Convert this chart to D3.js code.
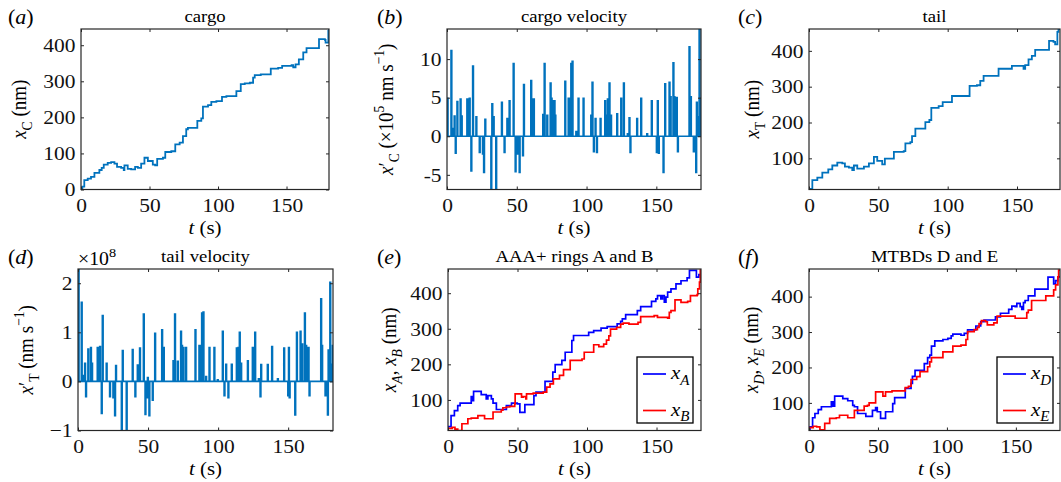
<!DOCTYPE html>
<html>
<head>
<meta charset="utf-8">
<script src="https://cdn.jsdelivr.net/npm/d3@7"></script>
<style>
body{margin:0;background:#fff;}
</style>
</head>
<body>
<svg id="fig" width="1061" height="482"></svg>
<script>
// ---- data: [t (s), value] ----
var cargo=[[0,3],[1,8],[2.4,26],[4.9,30],[7.3,35],[9.8,46],[13.4,54],[15.1,60],[16.6,69],[19.5,74],[22,76],[24.4,72],[26.3,63],[29.3,60],[31.2,54],[31.7,67],[34.1,57],[36.6,56],[39.5,63],[41.5,60],[43.9,72],[46.3,88],[48.8,79],[52.4,69],[54.1,67],[55.6,85],[59.8,88],[61.5,104],[65.9,106],[68.8,125],[72,130],[74.4,148],[76.8,167],[78,171],[84.9,190],[87.8,197],[89,230],[92.7,234],[95.1,243],[98.8,245],[102.9,257],[106.1,259],[113.4,273],[116.6,292],[119.5,294],[123.2,296],[125.6,310],[126.8,317],[131.2,319],[138.5,335],[143.9,337],[146.8,343],[153.7,345],[154.9,339],[156.6,347],[159,361],[162.2,380],[164.6,392],[173.7,417],[178,415],[178.5,407],[180.5,440],[181,445]];

var tail=[[0,15],[2.4,39],[6,46],[9.6,60],[13.9,69],[16.8,80],[20.4,88],[24,86],[25.9,77],[28.8,74],[31.2,67],[32.4,80],[34.8,71],[39.6,77],[43.2,86],[46.8,104],[49.2,93],[52.8,83],[54.7,99],[61.2,118],[68.3,120],[69.5,142],[73.1,145],[74.3,162],[76.7,183],[83.9,201],[86.8,207],[88.2,241],[93.5,246],[96.4,257],[103.1,274],[115.8,302],[121.1,304],[123.5,316],[125.9,330],[136.7,350],[146.3,358],[154.7,350],[155.9,360],[158.3,376],[160.7,386],[163.1,403],[173.1,428],[176.3,425],[177.5,418],[179.1,453],[179.9,461],[182,461]];

var cargoVel=[[0.2,4.9],[2.9,11.1],[4,1],[5.2,2.6],[6,-2.2],[7.2,4.5],[9.5,4.8],[10.3,2.6],[14.3,4.8],[16,4.9],[17.2,-4.5],[18.4,9.1],[20.8,2.5],[23.2,-2.1],[25.5,-2.3],[26.3,-4.7],[27.2,2.2],[31.5,-6.9],[32.2,4.2],[33.2,2.5],[35,-6.9],[39.1,4.4],[41,-2.1],[43,2.3],[44.6,4.6],[47.5,9.4],[48.9,-4.6],[50.1,-2.3],[51.8,-4.7],[54.2,-2.5],[54.9,6.7],[60.1,7.2],[61.1,4.8],[62,4.8],[68.7,2.8],[69.7,9.4],[71.6,2.7],[74,6.9],[74.7,4.9],[75.7,4.6],[76.8,4.6],[77.4,2.7],[84.5,7.1],[86.9,4.9],[87.8,4.9],[88.8,9.4],[89.7,9.7],[92.4,0.6],[94,4.9],[97.6,4.9],[103.1,2.7],[104,7],[105,-2],[106.2,2.3],[107.2,-2.1],[109.8,2.3],[113.1,4.6],[114.3,2.7],[115,4.8],[116.2,6.9],[117.3,2.7],[121.7,2.9],[124.6,4.9],[126.5,6.9],[129.3,0.3],[130.5,2.4],[131.2,-2.1],[136,2.3],[138.9,4.9],[143.2,0.3],[146.5,4.6],[150.1,-2.1],[150.8,4.6],[151.5,-2.2],[154.9,-4.7],[156.1,6.8],[159.2,7],[160,5.1],[162,9.5],[162.7,5.1],[164.4,5],[165.2,-2],[173.5,11.6],[174.5,5.1],[176.6,-2],[178.3,-4.7],[178.8,4.4],[180,2.5],[180.7,14],[181.9,4.9]];

var tailVel=[[0.2,2.29],[2.4,1.61],[3.6,0.12],[4.8,0.37],[5.5,-0.31],[7.1,0.66],[9,0.69],[9.8,0.37],[13.8,0.69],[15.5,0.71],[16.7,-0.65],[17.4,1.34],[20.2,0.37],[22.6,-0.31],[25,-0.33],[26.2,-0.7],[26.9,0.32],[31,-1.05],[31.7,0.63],[34.5,-1.05],[38.8,0.65],[40.7,-0.31],[42.4,0.33],[44,0.68],[46.7,1.37],[47.9,-0.67],[49.1,-0.33],[49.6,0.08],[50.7,-0.7],[53.1,-0.38],[54.8,0.98],[59.8,1.05],[61,0.69],[67.9,0.42],[69,1.37],[71,0.41],[73.3,1.02],[74,0.73],[75,0.69],[76.9,0.69],[83.6,1.05],[86.4,0.73],[87.1,0.73],[88.3,1.39],[89.3,1.41],[91.2,0.1],[93.6,0.69],[97.1,0.69],[99.5,0.03],[103.1,1.02],[104.3,-0.29],[105.5,0.35],[107.1,-0.33],[109.5,0.35],[113.1,0.68],[114.3,0.69],[115.2,1],[116.2,0.37],[121,0.42],[124.5,0.69],[126.2,1],[128.8,0.05],[130,-0.31],[130.5,0.34],[135.2,0.34],[138.3,0.71],[142.4,0.05],[146.9,0.68],[149.8,-0.29],[150.3,0.69],[150.8,-0.33],[154.8,-0.68],[156,1],[158.6,1.02],[159.8,0.76],[161.7,1.39],[162.6,0.73],[164.3,0.69],[165,-0.29],[173.3,1.68],[174,0.73],[176.4,-0.29],[178.1,-0.68],[178.6,0.64],[179.8,2.02],[180.5,0.35],[181.7,0.73]];

var ringA=[[0,25],[2.2,56],[4.6,70],[7,84],[8.7,91],[16.7,109],[17.4,98],[18.4,124],[23.9,115],[27.5,103],[28.7,112],[31.2,103],[32.4,91],[34.8,73],[42,84],[45.7,91],[49.8,89],[51.7,65],[55.3,87],[61.8,112],[63.3,122],[69.8,152],[75.4,178],[77.1,199],[81.9,211],[84.3,234],[89.1,267],[90.3,281],[101.2,290],[104.8,295],[110.1,302],[114.5,306],[121.7,314],[124.2,321],[125.4,328],[127.8,340],[136.2,351],[138.6,362],[146.4,377],[149.5,384],[150.7,393],[153.1,384],[154.3,393],[155.6,375],[156.8,389],[158,403],[160.4,412],[164,426],[167.6,435],[172,443],[173.7,464],[178.7,445],[180.5,452],[182,458]];

var ringB=[[0,20],[3,23],[5,18],[7,14],[10,33],[14.3,47],[16.7,49],[21.5,56],[26.3,47],[32.4,66],[38.3,71],[39.5,78],[42,80],[44.4,82],[48,89],[48.3,117],[50.5,117],[52.9,108],[54.1,109],[56,103],[56.5,117],[61.3,119],[68.5,122],[71,136],[73.4,145],[75.8,159],[80.2,169],[83.1,185],[86,185],[87.9,211],[96.4,215],[98,234],[102.4,234],[104.8,255],[108.5,250],[112,257],[114,268],[115.7,280],[116.9,299],[121.3,304],[124.2,313],[126,316],[130.2,313],[136.7,318],[138.6,334],[148.3,337],[150.7,332],[158,330],[159.2,346],[160.4,351],[163.3,381],[167.6,374],[172.4,377],[174.4,393],[179.2,396],[179.7,412],[180.9,431],[181.5,465],[182,465]];

var mtbdD=[[0,22],[0.7,32],[2.6,58],[4.3,70],[6.7,81],[9,89],[16.2,103],[17.4,91],[18.6,119],[24.5,112],[28.1,106],[31.7,93],[32.9,89],[35.2,70],[41.2,62],[46,79],[48.3,87],[49.5,75],[51.9,56],[55.5,75],[60.7,98],[62.1,115],[69.8,141],[74,155],[75,175],[76.9,192],[83.6,211],[86,228],[87.6,235],[88.8,260],[91.2,275],[97.1,279],[100.7,282],[103.1,289],[104.3,294],[110.2,291],[112.6,296],[115,306],[121,317],[124.5,329],[126.9,334],[135.2,343],[138.8,353],[144.8,364],[147.1,373],[149.5,372],[150.7,381],[153.1,372],[154.3,364],[155.5,383],[156.7,389],[159,402],[163.8,421],[173.3,455],[177.4,436],[178.8,445],[180.5,456],[182,456]];

var mtbdE=[[0,30],[3.1,34],[5.5,32],[7.9,24],[11.4,42],[15,56],[19.8,58],[22.1,65],[28.1,58],[32.9,79],[40,91],[42.4,93],[43.6,100],[48.3,131],[53.6,119],[55.5,131],[60.2,134],[69.8,143],[72.1,147],[74,166],[78.1,174],[80.5,188],[86,202],[87.6,216],[88.8,228],[97.1,244],[104.3,260],[110.2,263],[113.8,279],[115,301],[119.8,307],[122.1,313],[123.3,324],[125,332],[128.1,329],[129.3,320],[134,326],[136.4,345],[149.5,339],[157.9,355],[159,362],[161.4,389],[171.7,402],[177.4,419],[178.8,433],[180.5,456],[181,475],[182,475]];

// tick values
var tTicks=[0,50,100,150];
var cargoTicks=[0,100,200,300,400];
var posTicks=[100,200,300,400];
var cargoVelTicks=[-5,0,5,10];
var tailVelTicks=[-1,0,1,2];

// ---- drawing ----
var svg=d3.select("#fig");
var FONT="'Liberation Serif', 'Times New Roman', Times, serif";
var SX=1.1, TICK=3, SPW=0.5;
var MBLUE="#0072BD", BLUE="#0000FF", RED="#FF0000", INK="#262626";

svg.attr("font-family",FONT);

// rich text: parts are [string, style] with style "", "i", "sub", "isub", "sup"
function rich(t,parts,size){
  var shift=0;
  parts.forEach(function(p){
    var st=p[1]||"", fs=size, target=0;
    if(st.indexOf("sub")>=0){fs=size*0.72;target=size*0.3;}
    if(st=="sup"){fs=size*0.72;target=-size*0.42;}
    var ts=t.append("tspan").text(p[0]).attr("font-size",fs).attr("dy",target-shift);
    if(st.charAt(0)=="i") ts.attr("font-style","italic");
    shift=target;
  });
  return t;
}

function label(x,y,size,anchor,rot){
  return svg.append("text")
    .attr("font-family",FONT)
    .attr("font-size",size)
    .attr("fill","#000")
    .attr("text-anchor",anchor)
    .attr("transform","translate("+x+","+y+")"+(rot?" rotate(-90) scale(1,"+SX+")":" scale("+SX+",1)"));
}

function spikes(sp,t0,t1){
  var pts=[[t0,0]];
  sp.forEach(function(d){
    pts.push([d[0],0],[d[0],d[1]],[d[0]+SPW,d[1]],[d[0]+SPW,0]);
  });
  pts.push([t1,0]);
  return pts;
}

function panel(o){
  var x=d3.scaleLinear().domain(o.xdom).range([o.l,o.r]),
    y=d3.scaleLinear().domain(o.ydom).range([o.b,o.t]);
  var g=svg.append("g");

  svg.append("clipPath").attr("id","clip"+o.id)
    .append("rect").attr("x",o.l).attr("y",o.t).attr("width",o.r-o.l).attr("height",o.b-o.t);

  var pg=g.append("g").attr("clip-path","url(#clip"+o.id+")");
  o.series.forEach(function(s){
    var line=d3.line()
      .x(function(d){return x(d[0]);})
      .y(function(d){return y(d[1]);})
      .curve(s.step?d3.curveStepAfter:d3.curveLinear);
    pg.append("path").datum(s.data)
      .attr("fill","none").attr("stroke",s.color).attr("stroke-width",s.w)
      .attr("d",line);
  });

  // axes, ticks inside on all four sides
  var fmt=o.yfmt||function(d){return d;};
  var ax=g.append("g");
  ax.append("g").attr("transform","translate(0,"+o.b+")")
    .call(d3.axisBottom(x).tickValues(tTicks).tickSizeInner(-TICK).tickSizeOuter(0).tickPadding(9));
  ax.append("g").attr("transform","translate("+o.l+",0)")
    .call(d3.axisLeft(y).tickValues(o.yticks).tickFormat(fmt).tickSizeInner(-TICK).tickSizeOuter(0).tickPadding(5));
  ax.append("g").attr("transform","translate(0,"+o.t+")")
    .call(d3.axisTop(x).tickValues(tTicks).tickSizeInner(-TICK).tickSizeOuter(0).tickFormat(""));
  ax.append("g").attr("transform","translate("+o.r+",0)")
    .call(d3.axisRight(y).tickValues(o.yticks).tickSizeInner(-TICK).tickSizeOuter(0).tickFormat(""));
  ax.selectAll(".domain").remove();
  ax.selectAll("g").attr("font-family",FONT).attr("font-size",19.5);
  ax.selectAll(".tick line").attr("stroke",INK).attr("stroke-width",1);
  ax.selectAll(".tick text").attr("fill","#111").attr("font-family",FONT).attr("transform","scale("+SX+",1)");

  g.append("rect").attr("x",o.l).attr("y",o.t).attr("width",o.r-o.l).attr("height",o.b-o.t)
    .attr("fill","none").attr("stroke",INK).attr("stroke-width",1.2);

  // title, panel letter, axis labels
  label((o.l+o.r)/2,o.t-7,17,"middle").text(o.title);
  rich(label(o.px,o.t-5,20,"start"),[["("],[o.letter,"i"],[")"]],20);
  rich(label((o.l+o.r)/2,o.b+44,19,"middle"),[["t","i"],[" (s)"]],19);
  rich(label(o.yl,(o.t+o.b)/2,19,"middle",true),o.ylabel,19);

  if(o.legend){
    var L=o.legend;
    g.append("rect").attr("x",L.x).attr("y",L.y).attr("width",L.w).attr("height",L.h)
      .attr("fill","#fff").attr("stroke","#000").attr("stroke-width",1.3);
    L.items.forEach(function(it,i){
      var ly=L.y+17+i*36.5;
      g.append("line").attr("x1",L.x+6).attr("x2",L.x+29).attr("y1",ly).attr("y2",ly)
        .attr("stroke",it.color).attr("stroke-width",1.7);
      rich(label(L.x+34,ly+5,19,"start"),[["x","i"],[it.sub,"isub"]],19);
    });
  }
  return {x:x,y:y};
}

var rowA={t:29,b:189.5}, rowB={t:269,b:430.5};

panel({id:"a",letter:"a",title:"cargo",l:81,r:329,t:rowA.t,b:rowA.b,px:8,yl:26,
  xdom:[0,181],ydom:[0,445],yticks:cargoTicks,
  ylabel:[["x","i"],["C","sub"],[" (nm)"]],
  series:[{data:cargo,color:MBLUE,w:1.8,step:true}]});

panel({id:"b",letter:"b",title:"cargo velocity",l:447,r:701,t:rowA.t,b:rowA.b,px:377,yl:393,
  xdom:[0,182],ydom:[-6.9,13.9],yticks:cargoVelTicks,
  yfmt:function(d){return d<0?"-"+(-d):""+d;},
  ylabel:[["x","i"],["\u2032"],["C","sub"],[" (\u00d710"],["5","sup"],[" nm s"],["\u22121","sup"],[")"]],
  series:[{data:spikes(cargoVel,0,182),color:MBLUE,w:1.7}]});

panel({id:"c",letter:"c",title:"tail",l:809,r:1060,t:rowA.t,b:rowA.b,px:738,yl:759,
  xdom:[0,181],ydom:[13,461],yticks:posTicks,
  ylabel:[["x","i"],["T","sub"],[" (nm)"]],
  series:[{data:tail,color:MBLUE,w:1.8,step:true}]});

panel({id:"d",letter:"d",title:"tail velocity",l:78,r:333,t:rowB.t,b:rowB.b,px:8,yl:33,
  xdom:[0,182],ydom:[-1,2.29],yticks:tailVelTicks,
  yfmt:function(d){return d<0?"\u2212"+(-d):""+d;},
  ylabel:[["x","i"],["\u2032"],["T","sub"],[" (nm s"],["\u22121","sup"],[")"]],
  series:[{data:spikes(tailVel,0,182),color:MBLUE,w:1.7}]});

rich(label(78,265,18,"start"),[["\u00d710"],["8","sup"]],18);

panel({id:"e",letter:"e",title:"AAA+ rings A and B",l:448,r:701,t:rowB.t,b:rowB.b,px:377,yl:396,
  xdom:[0,182],ydom:[14,468],yticks:posTicks,
  ylabel:[["x","i"],["A","isub"],[", "],["x","i"],["B","isub"],[" (nm)"]],
  series:[{data:ringA,color:BLUE,w:1.7,step:true},{data:ringB,color:RED,w:1.7,step:true}],
  legend:{x:637,y:357,w:56,h:66,items:[{color:BLUE,sub:"A"},{color:RED,sub:"B"}]}});

panel({id:"f",letter:"f",title:"MTBDs D and E",l:809,r:1060,t:rowB.t,b:rowB.b,px:738,yl:758,
  xdom:[0,182],ydom:[22,478],yticks:posTicks,
  ylabel:[["x","i"],["D","isub"],[", "],["x","i"],["E","isub"],[" (nm)"]],
  series:[{data:mtbdD,color:BLUE,w:1.7,step:true},{data:mtbdE,color:RED,w:1.7,step:true}],
  legend:{x:997,y:357,w:56,h:66,items:[{color:BLUE,sub:"D"},{color:RED,sub:"E"}]}});
</script>
</body>
</html>
